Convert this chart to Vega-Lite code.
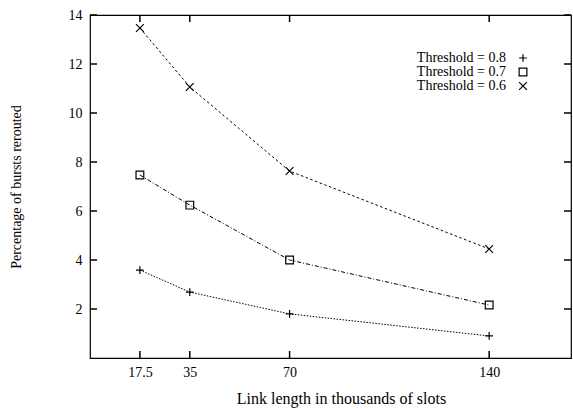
{
  "$schema": "https://vega.github.io/schema/vega-lite/v6.json",
  "width": 481,
  "height": 343,
  "autosize": {"type": "none"},
  "padding": {"left": 90, "top": 15, "right": 2, "bottom": 51},
  "background": "white",
  "config": {
    "font": "Liberation Serif",
    "view": {"stroke": "black", "strokeWidth": 1.2},
    "axis": {"domain": false, "grid": false, "ticks": false, "labelFont": "Liberation Serif", "titleFont": "Liberation Serif", "labelColor": "black", "titleColor": "black", "labelFontSize": 14, "titleFontSize": 14, "titleFontWeight": "normal"}
  },
  "datasets": {
    "curves": [
      {"length": 17.5, "pct": 3.59, "threshold": 0.8, "series": "Threshold = 0.8"},
      {"length": 35, "pct": 2.69, "threshold": 0.8, "series": "Threshold = 0.8"},
      {"length": 70, "pct": 1.8, "threshold": 0.8, "series": "Threshold = 0.8"},
      {"length": 140, "pct": 0.9, "threshold": 0.8, "series": "Threshold = 0.8"},
      {"length": 17.5, "pct": 7.47, "threshold": 0.7, "series": "Threshold = 0.7"},
      {"length": 35, "pct": 6.24, "threshold": 0.7, "series": "Threshold = 0.7"},
      {"length": 70, "pct": 4.0, "threshold": 0.7, "series": "Threshold = 0.7"},
      {"length": 140, "pct": 2.16, "threshold": 0.7, "series": "Threshold = 0.7"},
      {"length": 17.5, "pct": 13.47, "threshold": 0.6, "series": "Threshold = 0.6"},
      {"length": 35, "pct": 11.06, "threshold": 0.6, "series": "Threshold = 0.6"},
      {"length": 70, "pct": 7.63, "threshold": 0.6, "series": "Threshold = 0.6"},
      {"length": 140, "pct": 4.45, "threshold": 0.6, "series": "Threshold = 0.6"}
    ],
    "xticks": [{"v": 17.5}, {"v": 35}, {"v": 70}, {"v": 140}],
    "yticks": [{"v": 2}, {"v": 4}, {"v": 6}, {"v": 8}, {"v": 10}, {"v": 12}, {"v": 14}]
  },
  "layer": [
    {
      "data": {"name": "curves"},
      "mark": {"type": "line", "color": "black", "strokeWidth": 1},
      "encoding": {
        "x": {"field": "length", "type": "quantitative", "scale": {"domain": [0, 168.7], "nice": false, "zero": false},
          "axis": {"orient": "bottom", "values": [17.5, 35, 70, 140], "labelPadding": 7, "title": "Link length in thousands of slots", "titleFontSize": 16, "titlePadding": 11, "titleX": 251, "format": ".1~f"}},
        "y": {"field": "pct", "type": "quantitative", "scale": {"domain": [0, 14], "nice": false},
          "axis": {"orient": "left", "values": [2, 4, 6, 8, 10, 12, 14], "labelPadding": 8, "title": "Percentage of bursts rerouted", "titlePadding": 45}},
        "strokeDash": {"field": "threshold", "type": "nominal",
          "scale": {"domain": [0.8, 0.7, 0.6], "range": [[1.5, 1.5], [4, 2, 1, 2], [2.5, 2.5]]},
          "legend": null}
      }
    },
    {
      "data": {"name": "curves"},
      "mark": {"type": "point", "color": "black", "filled": false, "strokeWidth": 1.2, "size": 60, "opacity": 1},
      "encoding": {
        "x": {"field": "length", "type": "quantitative", "axis": null},
        "y": {"field": "pct", "type": "quantitative", "axis": null},
        "shape": {"field": "series", "type": "nominal",
          "scale": {"domain": ["Threshold = 0.8", "Threshold = 0.7", "Threshold = 0.6"], "range": ["M-1,0L1,0M0,-1L0,1", "square", "M-1,-1L1,1M-1,1L1,-1"]},
          "legend": {"title": null, "orient": "none", "legendX": 426, "legendY": 36, "padding": 0, "labelAlign": "right", "labelOffset": -24, "labelFontSize": 14, "labelFont": "Liberation Serif", "labelColor": "black", "symbolStrokeColor": "black", "symbolStrokeWidth": 1.2, "symbolSize": 60, "rowPadding": -1, "symbolFillColor": "transparent"}}
      }
    },
    {
      "data": {"name": "xticks"},
      "mark": {"type": "tick", "orient": "vertical", "color": "black", "size": 7, "thickness": 1.5, "yOffset": -3.5, "opacity": 1},
      "encoding": {
        "x": {"field": "v", "type": "quantitative", "axis": null},
        "y": {"datum": 0, "type": "quantitative", "axis": null}
      }
    },
    {
      "data": {"name": "xticks"},
      "mark": {"type": "tick", "orient": "vertical", "color": "black", "size": 7, "thickness": 1.5, "yOffset": 3.5, "opacity": 1},
      "encoding": {
        "x": {"field": "v", "type": "quantitative", "axis": null},
        "y": {"datum": 14, "type": "quantitative", "axis": null}
      }
    },
    {
      "data": {"name": "yticks"},
      "mark": {"type": "tick", "orient": "horizontal", "color": "black", "size": 7, "thickness": 1.5, "xOffset": 3.5, "opacity": 1},
      "encoding": {
        "y": {"field": "v", "type": "quantitative", "axis": null},
        "x": {"datum": 0, "type": "quantitative", "axis": null}
      }
    },
    {
      "data": {"name": "yticks"},
      "mark": {"type": "tick", "orient": "horizontal", "color": "black", "size": 7, "thickness": 1.5, "xOffset": -3.5, "opacity": 1},
      "encoding": {
        "y": {"field": "v", "type": "quantitative", "axis": null},
        "x": {"datum": 168.7, "type": "quantitative", "axis": null}
      }
    }
  ],
  "resolve": {"axis": {"x": "independent", "y": "independent"}}
}
